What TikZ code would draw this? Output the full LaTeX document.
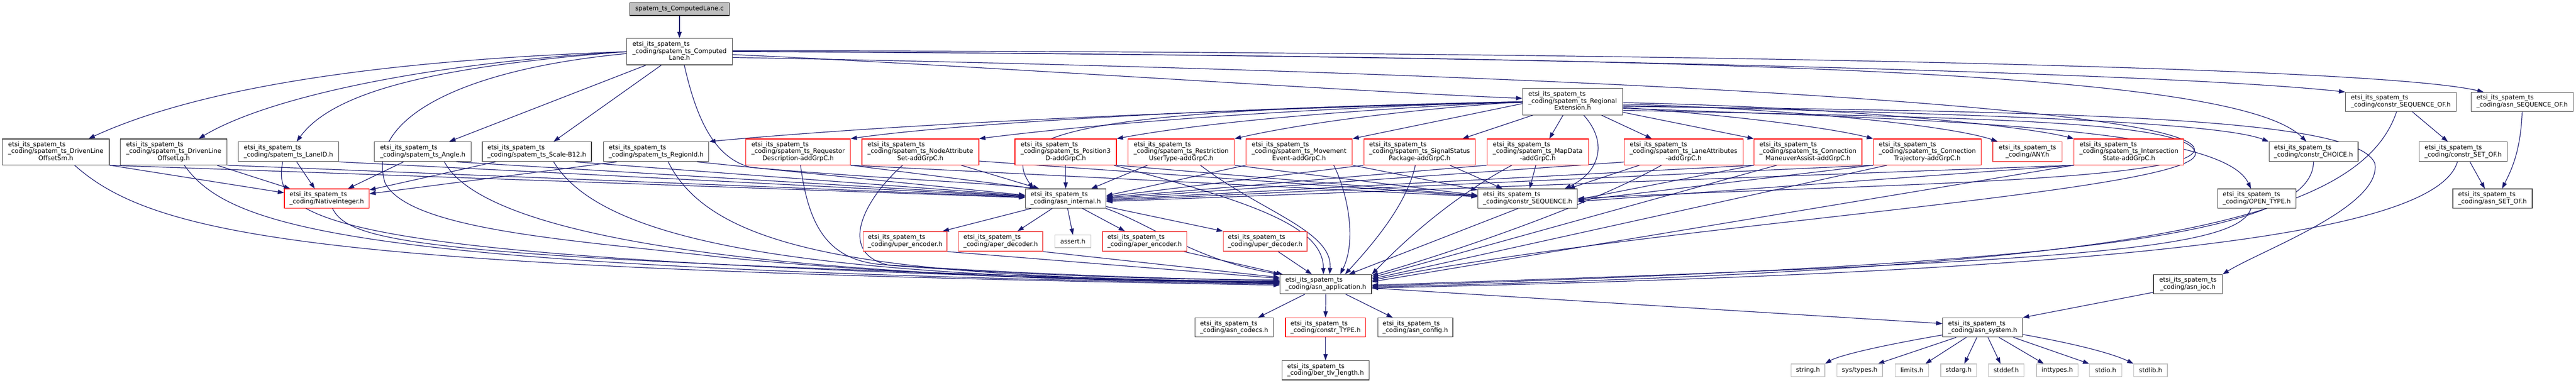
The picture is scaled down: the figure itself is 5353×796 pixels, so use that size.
\documentclass[tikz,border=0pt]{standalone}
\usepackage{fontspec}
\setmainfont{DejaVu Sans}
\usetikzlibrary{arrows.meta}
\pgfdeclarelayer{bglayer}
\pgfdeclarelayer{edgelayer}
\pgfsetlayers{bglayer,edgelayer,main}
\definecolor{edgec}{HTML}{191970}
\definecolor{grey25}{HTML}{404040}
\definecolor{grey75}{HTML}{BFBFBF}
\definecolor{lightred}{HTML}{F04848}
\newcommand{\nodefont}{\fontsize{13}{14.5}\selectfont}
\newcommand{\EI}{etsi\_its\_spatem\_ts}
\newcommand{\CO}{\_coding/}
\newcommand{\twoL}[2]{\begin{tabular}{@{}l@{}}#1\\\multicolumn{1}{@{}c@{}}{#2}\end{tabular}}
\newcommand{\threeL}[3]{\begin{tabular}{@{}l@{}}#1\\#2\\\multicolumn{1}{@{}c@{}}{#3}\end{tabular}}
\tikzset{
  nb/.style={draw=grey25, line width=1.3pt, fill=white, inner sep=0pt, font=\nodefont, text=black},
  redb/.style={nb, draw=red},
  lredb/.style={nb, draw=lightred, line width=1.6pt},
  stdh/.style={nb, draw=grey75, minimum height=26pt},
  rootb/.style={nb, fill=grey75, draw=black},
  nthree/.style={minimum height=54pt},
  ntwo/.style={minimum height=41pt},
  e/.style={draw=edgec, line width=1.3pt, -{Triangle[length=13pt,width=9pt]}},
}
\begin{document}
\begin{tikzpicture}[x=1pt,y=-1pt]
\begin{pgfonlayer}{bglayer}
\fill[white] (0,0) rectangle (5353,796);
\end{pgfonlayer}
\useasboundingbox (0,0) rectangle (5353,796);
% ---------- nodes ----------
\node[rootb, minimum width=206pt, minimum height=26pt] (C) at (1412,19) {spatem\_ts\_ComputedLane.c};
\node[nb, minimum width=220pt, minimum height=55pt] (H) at (1412,107.5) {\threeL{\EI}{\CO spatem\_ts\_Computed}{Lane.h}};
\node[nb, minimum width=208pt, minimum height=55pt] (RE) at (3268,211.5) {\threeL{\EI}{\CO spatem\_ts\_Regional}{Extension.h}};
\node[nb, minimum width=230pt, minimum height=40pt] (CSOF) at (4989,212) {\twoL{\EI}{\CO constr\_SEQUENCE\_OF.h}};
\node[nb, minimum width=212pt, minimum height=40pt] (ASOF) at (5241,212) {\twoL{\EI}{\CO asn\_SEQUENCE\_OF.h}};
% row 3
\node[nb, nthree, minimum width=222pt] (DLOSm) at (116,316) {\threeL{\EI}{\CO spatem\_ts\_DrivenLine}{OffsetSm.h}};
\node[nb, nthree, minimum width=222pt] (DLOLg) at (361,316) {\threeL{\EI}{\CO spatem\_ts\_DrivenLine}{OffsetLg.h}};
\node[nb, ntwo, minimum width=209pt] (LaneID) at (599.5,315.5) {\twoL{\EI}{\CO spatem\_ts\_LaneID.h}};
\node[nb, ntwo, minimum width=201pt] (Angle) at (878.5,315.5) {\twoL{\EI}{\CO spatem\_ts\_Angle.h}};
\node[nb, ntwo, minimum width=227pt] (ScaleB12) at (1115.5,315.5) {\twoL{\EI}{\CO spatem\_ts\_Scale-B12.h}};
\node[nb, ntwo, minimum width=219pt] (RegionId) at (1363.5,315.5) {\twoL{\EI}{\CO spatem\_ts\_RegionId.h}};
\node[redb, nthree, minimum width=217pt] (Requestor) at (1658.5,316) {\threeL{\EI}{\CO spatem\_ts\_Requestor}{Description-addGrpC.h}};
\node[redb, nthree, minimum width=243pt] (NodeAttr) at (1912.5,316) {\threeL{\EI}{\CO spatem\_ts\_NodeAttribute}{Set-addGrpC.h}};
\node[redb, nthree, minimum width=211pt] (Pos3D) at (2214.5,316) {\threeL{\EI}{\CO spatem\_ts\_Position3}{D-addGrpC.h}};
\node[redb, nthree, minimum width=221pt] (RestrUser) at (2454.5,316) {\threeL{\EI}{\CO spatem\_ts\_Restriction}{UserType-addGrpC.h}};
\node[redb, nthree, minimum width=221pt] (MovEvent) at (2699.5,316) {\threeL{\EI}{\CO spatem\_ts\_Movement}{Event-addGrpC.h}};
\node[redb, nthree, minimum width=232pt] (SigStatus) at (2950,316) {\threeL{\EI}{\CO spatem\_ts\_SignalStatus}{Package-addGrpC.h}};
\node[redb, nthree, minimum width=211pt] (MapData) at (3195.5,316) {\threeL{\EI}{\CO spatem\_ts\_MapData}{-addGrpC.h}};
\node[redb, nthree, minimum width=247pt] (LaneAttr) at (3498.5,316) {\threeL{\EI}{\CO spatem\_ts\_LaneAttributes}{-addGrpC.h}};
\node[redb, nthree, minimum width=224pt] (ConnMan) at (3757,316) {\threeL{\EI}{\CO spatem\_ts\_Connection}{ManeuverAssist-addGrpC.h}};
\node[redb, nthree, minimum width=224pt] (ConnTraj) at (4005,316) {\threeL{\EI}{\CO spatem\_ts\_Connection}{Trajectory-addGrpC.h}};
\node[lredb, ntwo, minimum width=144pt] (ANY) at (4213,315.5) {\twoL{\EI}{\CO ANY.h}};
\node[redb, nthree, minimum width=228pt] (InterState) at (4424,316) {\threeL{\EI}{\CO spatem\_ts\_Intersection}{State-addGrpC.h}};
\node[nb, ntwo, minimum width=185pt] (CCHOICE) at (4807.5,315.5) {\twoL{\EI}{\CO constr\_CHOICE.h}};
\node[nb, ntwo, minimum width=183pt] (CSETOF) at (5118.5,315.5) {\twoL{\EI}{\CO constr\_SET\_OF.h}};
% row 4
\node[redb, minimum height=40pt, minimum width=176pt] (NI) at (679,413) {\twoL{\EI}{\CO NativeInteger.h}};
\node[nb, minimum height=40pt, minimum width=167pt] (AI) at (2214.5,413) {\twoL{\EI}{\CO asn\_internal.h}};
\node[nb, minimum height=40pt, minimum width=207pt] (CSEQ) at (3174.5,413) {\twoL{\EI}{\CO constr\_SEQUENCE.h}};
\node[nb, minimum height=40pt, minimum width=163pt] (OT) at (4689.5,413) {\twoL{\EI}{\CO OPEN\_TYPE.h}};
\node[nb, minimum height=40pt, minimum width=165pt] (ASETOF) at (5179.5,413) {\twoL{\EI}{\CO asn\_SET\_OF.h}};
% row 5
\node[lredb, ntwo, minimum width=174pt] (UE) at (1881,502) {\twoL{\EI}{\CO uper\_encoder.h}};
\node[lredb, ntwo, minimum width=175pt] (AD) at (2079.5,502) {\twoL{\EI}{\CO aper\_decoder.h}};
\node[stdh, minimum width=75pt] (AS) at (2229.5,502) {assert.h};
\node[lredb, ntwo, minimum width=175pt] (AE) at (2378.5,502) {\twoL{\EI}{\CO aper\_encoder.h}};
\node[lredb, ntwo, minimum width=174pt] (UD) at (2629,502) {\twoL{\EI}{\CO uper\_decoder.h}};
% row 6
\node[nb, minimum height=40pt, minimum width=190pt] (AA) at (2755,591) {\twoL{\EI}{\CO asn\_application.h}};
\node[nb, minimum height=40pt, minimum width=143pt] (IOC) at (4546.5,591) {\twoL{\EI}{\CO asn\_ioc.h}};
% row 7
\node[nb, minimum height=40pt, minimum width=163pt] (CODECS) at (2564.5,681) {\twoL{\EI}{\CO asn\_codecs.h}};
\node[redb, minimum height=40pt, minimum width=167pt] (CT) at (2754.5,681) {\twoL{\EI}{\CO constr\_TYPE.h}};
\node[nb, minimum height=40pt, minimum width=156pt] (CONF) at (2941,681) {\twoL{\EI}{\CO asn\_config.h}};
\node[nb, minimum height=40pt, minimum width=166pt] (SYS) at (4120,681) {\twoL{\EI}{\CO asn\_system.h}};
% row 8
\node[nb, minimum height=40pt, minimum width=181pt] (BER) at (2754.5,770) {\twoL{\EI}{\CO ber\_tlv\_length.h}};
\node[stdh, minimum width=70pt] (STRING) at (3757,770) {string.h};
\node[stdh, minimum width=95pt] (STYPES) at (3864.5,770) {sys/types.h};
\node[stdh, minimum width=70pt] (LIMITS) at (3973,770) {limits.h};
\node[stdh, minimum width=74pt] (STDARG) at (4070,770) {stdarg.h};
\node[stdh, minimum width=74pt] (STDDEF) at (4169,770) {stddef.h};
\node[stdh, minimum width=86pt] (INTTYPES) at (4275,770) {inttypes.h};
\node[stdh, minimum width=67pt] (STDIO) at (4375.5,770) {stdio.h};
\node[stdh, minimum width=70pt] (STDLIB) at (4469,770) {stdlib.h};
% ---------- edges ----------
\begin{pgfonlayer}{edgelayer}
\draw[e] (C) -- (H);
% ComputedLane.h
\draw[e] (H.west) .. controls (800,125) and (420,180) .. ([xshift=68pt]DLOSm.north);
\draw[e] (H.west) .. controls (900,130) and (560,200) .. ([xshift=52pt]DLOLg.north);
\draw[e] (H.west) .. controls (950,135) and (700,180) .. ([xshift=17pt]LaneID.north);
\draw[e] ([yshift=-4pt]H.west) .. controls (950,145) and (760,250) .. (800,380) .. controls (850,480) and (1200,500) .. (1500,535) .. controls (1900,575) and (2300,585) .. ([yshift=3pt]AA.west);
\draw[e] ([xshift=-70pt]H.south) -- ([xshift=55pt]Angle.north);
\draw[e] ([xshift=-38pt]H.south) -- ([xshift=35pt]ScaleB12.north);
\draw[e] ([xshift=10pt]H.south) .. controls (1450,260) and (1490,330) .. (1560,348) .. controls (1800,370) and (2050,380) .. ([xshift=-60pt]AI.north);
\draw[e] ([yshift=-6pt]H.east) .. controls (2000,135) and (2800,190) .. ([yshift=7pt]RE.west);
\draw[e] (H.east) .. controls (3000,112) and (4500,150) .. (CSOF.north west);
\draw[e] ([yshift=2pt]H.east) .. controls (3000,106) and (4900,130) .. ([xshift=-80pt]ASOF.north);
\draw[e] ([yshift=1pt]H.east) .. controls (3500,120) and (4640,140) .. ([xshift=-15pt]CCHOICE.north);
\draw[e] ([yshift=-12pt]H.east) .. controls (3200,150) and (4550,220) .. (4560,310) .. controls (4565,380) and (3800,385) .. (CSEQ.east);
% RegionalExtension.h
\draw[e] (RE.west) .. controls (2500,230) and (1900,255) .. (RegionId.north east);
\draw[e] (RE.west) .. controls (2600,222) and (2000,255) .. (Requestor.north east);
\draw[e] (RE.west) .. controls (2700,225) and (2300,255) .. (NodeAttr.north east);
\draw[e] (RE.west) .. controls (2800,228) and (2500,255) .. (Pos3D.north east);
\draw[e] (RE.west) .. controls (2900,230) and (2700,258) .. (RestrUser.north east);
\draw[e] ([yshift=-4pt]RE.west) -- (MovEvent.north east);
\draw[e] ([xshift=-83pt]RE.south) -- ([xshift=89pt]SigStatus.north);
\draw[e] ([xshift=-20pt]RE.south) -- ([xshift=24pt]MapData.north);
\draw[e] ([xshift=60pt]RE.south) -- ([xshift=-66pt]LaneAttr.north);
\draw[e] ([yshift=-22pt]RE.east) -- (ConnMan.north west);
\draw[e] ([yshift=-12pt]RE.east) .. controls (3600,240) and (3800,265) .. (ConnTraj.north west);
\draw[e] ([yshift=-5pt]RE.east) .. controls (3700,225) and (4050,260) .. ([xshift=-62pt]ANY.north);
\draw[e] ([yshift=-2pt]RE.east) .. controls (3800,222) and (4200,260) .. (InterState.north west);
\draw[e] ([yshift=-8pt]RE.east) .. controls (4000,235) and (4600,250) .. (CCHOICE.north west);
\draw[e] ([yshift=-14pt]RE.east) .. controls (4100,250) and (4620,270) .. ([xshift=-12pt]OT.north);
\draw[e] ([yshift=-10pt]RE.east) .. controls (4400,232) and (4900,250) .. (4935,340) .. controls (4950,430) and (4700,520) .. (IOC.north east);
\draw[e] ([yshift=-2pt]RE.west) .. controls (2300,225) and (2060,270) .. ([xshift=-67pt]AI.north);
\draw[e] ([xshift=23pt]RE.south) .. controls (3345,300) and (3320,360) .. ([xshift=77pt]CSEQ.north);
\draw[e] ([yshift=-18pt]RE.east) .. controls (4100,245) and (4560,250) .. (4562,320) .. controls (4562,400) and (3400,470) .. ([yshift=8pt]AA.east);
% integer leaf types
\draw[e] (DLOSm.south east) -- ([yshift=12pt]NI.west);
\draw[e] (DLOSm.south east) -- ([yshift=2pt]AI.west);
\draw[e] ([xshift=39pt]DLOSm.south) .. controls (330,500) and (700,560) .. ([yshift=-2pt]AA.west);
\draw[e] ([xshift=90pt]DLOLg.south) -- ([xshift=-76pt]NI.north);
\draw[e] (DLOLg.south east) -- ([yshift=3pt]AI.west);
\draw[e] ([xshift=22pt]DLOLg.south) .. controls (480,480) and (750,560) .. ([yshift=0pt]AA.west);
\draw[e] ([xshift=17pt]LaneID.south) -- ([xshift=-25pt]NI.north);
\draw[e] (LaneID.south east) -- ([yshift=4pt]AI.west);
\draw[e] ([xshift=-12pt]LaneID.south) .. controls (560,470) and (700,545) .. ([yshift=1pt]AA.west);
\draw[e] ([xshift=-40pt]Angle.south) -- ([xshift=44pt]NI.north);
\draw[e] ([xshift=70pt]Angle.south) -- ([yshift=5pt]AI.west);
\draw[e] ([xshift=45pt]Angle.south) .. controls (1000,480) and (1500,580) .. ([yshift=4pt]AA.west);
\draw[e] ([xshift=-86pt]ScaleB12.south) -- ([yshift=18pt]NI.east);
\draw[e] ([xshift=80pt]ScaleB12.south) -- ([yshift=6pt]AI.west);
\draw[e] ([xshift=35pt]ScaleB12.south) .. controls (1250,500) and (1650,580) .. ([yshift=5pt]AA.west);
\draw[e] ([xshift=-82pt]RegionId.south) -- ([yshift=10pt]NI.east);
\draw[e] ([xshift=85pt]RegionId.south) -- ([yshift=7pt]AI.west);
\draw[e] ([xshift=25pt]RegionId.south) .. controls (1480,520) and (1800,580) .. ([yshift=6pt]AA.west);
% addGrpC headers
\draw[e] ([xshift=5pt]Requestor.south) .. controls (1680,470) and (1720,540) .. (1830,550) .. controls (2100,568) and (2400,580) .. ([yshift=8pt]AA.west);
\draw[e] (Requestor.south east) -- ([xshift=-62pt]AI.north);
\draw[e] (Requestor.south east) -- ([yshift=4pt]CSEQ.west);
\draw[e] ([xshift=-37pt]NodeAttr.south) .. controls (1790,420) and (1740,530) .. (1850,552) .. controls (2100,570) and (2400,582) .. ([yshift=9pt]AA.west);
\draw[e] ([xshift=85pt]NodeAttr.south) -- ([xshift=-55pt]AI.north);
\draw[e] ([yshift=-19pt]NodeAttr.east) -- ([yshift=5pt]CSEQ.west);
\draw[e] (Pos3D) -- (AI);
\draw[e] ([xshift=100pt]Pos3D.south) .. controls (2600,420) and (2750,470) .. ([xshift=-5pt]AA.north);
\draw[e] (Pos3D.south east) -- ([yshift=6pt]CSEQ.west);
\draw[e] ([xshift=-70pt]RestrUser.south) -- ([xshift=53pt]AI.north);
\draw[e] (RestrUser.south east) -- ([yshift=7pt]CSEQ.west);
\draw[e] ([xshift=40pt]RestrUser.south) .. controls (2620,440) and (2770,480) .. ([xshift=8pt]AA.north);
\draw[e] (MovEvent.south west) -- ([yshift=6pt]AI.east);
\draw[e] ([xshift=72pt]MovEvent.south) .. controls (2800,400) and (2820,500) .. ([xshift=30pt]AA.north);
\draw[e] (MovEvent.south east) -- ([yshift=18pt]CSEQ.west);
\draw[e] (SigStatus.south west) -- ([yshift=4pt]AI.east);
\draw[e] ([xshift=-9pt]SigStatus.south) .. controls (2925,420) and (2860,500) .. ([xshift=40pt]AA.north);
\draw[e] ([xshift=63pt]SigStatus.south) -- ([xshift=-52pt]CSEQ.north);
\draw[e] (MapData.south west) -- ([yshift=2pt]AI.east);
\draw[e] ([xshift=-54pt]MapData.south) .. controls (3000,420) and (2900,520) .. (AA.north east);
\draw[e] ([xshift=-4pt]MapData.south) -- ([xshift=4pt]CSEQ.north);
\draw[e] ([yshift=-21pt]LaneAttr.west) -- (AI.east);
\draw[e] ([xshift=-46pt]LaneAttr.south) .. controls (3300,430) and (3000,530) .. ([yshift=18pt]AA.east);
\draw[e] ([xshift=-92pt]LaneAttr.south) -- ([xshift=85pt]CSEQ.north);
\draw[e] (ConnMan.south west) -- ([yshift=-2pt]AI.east);
\draw[e] ([xshift=-65pt]ConnMan.south) -- ([yshift=14pt]AA.east);
\draw[e] (ConnMan.south west) -- ([yshift=-2pt]CSEQ.east);
\draw[e] (ConnTraj.south west) -- ([yshift=-4pt]AI.east);
\draw[e] ([xshift=-84pt]ConnTraj.south) -- ([yshift=11pt]AA.east);
\draw[e] (ConnTraj.south west) -- ([yshift=-4pt]CSEQ.east);
\draw[e] (InterState.south west) -- ([yshift=-6pt]AI.east);
\draw[e] (InterState.south west) -- ([yshift=5pt]AA.east);
\draw[e] (InterState.south west) -- ([yshift=-6pt]CSEQ.east);
% NativeInteger, constr_SEQUENCE
\draw[e] ([xshift=12pt]NI.south) .. controls (730,510) and (900,540) .. ([yshift=2pt]AA.west);
\draw[e] ([xshift=-20pt]CSEQ.south) -- ([xshift=48pt]AA.north);
% asn_internal.h
\draw[e] ([xshift=4pt]AI.south) -- (AS.north);
\draw[e] ([xshift=-72pt]AI.south) -- ([xshift=78pt]UE.north);
\draw[e] ([xshift=-28pt]AI.south) -- ([xshift=35pt]AD.north);
\draw[e] ([xshift=35pt]AI.south) -- ([xshift=-41pt]AE.north);
\draw[e] ([yshift=4pt]AI.south east) -- (UD.north west);
\draw[e] (AI.south east) .. controls (2400,470) and (2480,540) .. (AA.north west);
\draw[e] (UE.south east) -- ([yshift=12pt]AA.west);
\draw[e] (AD.south east) -- ([yshift=14pt]AA.west);
\draw[e] ([xshift=82pt]AE.south) -- ([xshift=6pt]AA.north west);
\draw[e] ([xshift=27pt]UD.south) -- ([xshift=-29pt]AA.north);
% right-hand headers
\draw[e] (CCHOICE.south) .. controls (4805,490) and (4300,550) .. ([yshift=-4pt]AA.east);
\draw[e] ([xshift=-9pt]CSOF.south) .. controls (4900,470) and (4400,560) .. ([yshift=-6pt]AA.east);
\draw[e] ([xshift=24pt]CSOF.south) -- ([xshift=-32pt]CSETOF.north);
\draw[e] ([xshift=-12pt]CSETOF.south) .. controls (5060,490) and (4400,565) .. ([yshift=-8pt]AA.east);
\draw[e] ([xshift=14pt]CSETOF.south) -- ([xshift=-16pt]ASETOF.north);
\draw[e] (ASOF.south) .. controls (5238,320) and (5215,360) .. ([xshift=20pt]ASETOF.north);
\draw[e] ([xshift=-12pt]OT.south) .. controls (4650,520) and (4300,545) .. ([yshift=-2pt]AA.east);
\draw[e] ([yshift=-17pt]IOC.west) -- (SYS.north east);
% asn_application.h
\draw[e] ([yshift=-8pt]AA.east) -- ([yshift=8pt]SYS.west);
\draw[e] ([xshift=-43pt]AA.south) -- ([xshift=50pt]CODECS.north);
\draw[e] (AA.south) -- (CT.north);
\draw[e] ([xshift=41pt]AA.south) -- ([xshift=-47pt]CONF.north);
\draw[e] (CT.south) -- (BER.north);
% asn_system.h
\draw[e] ([yshift=5pt]SYS.south west) .. controls (3900,720) and (3820,740) .. (STRING.north east);
\draw[e] ([xshift=-55pt]SYS.south) -- ([xshift=38pt]STYPES.north);
\draw[e] ([xshift=-34pt]SYS.south) -- ([xshift=28pt]LIMITS.north);
\draw[e] ([xshift=-12pt]SYS.south) -- ([xshift=12pt]STDARG.north);
\draw[e] ([xshift=11pt]SYS.south) -- ([xshift=-12pt]STDDEF.north);
\draw[e] ([xshift=34pt]SYS.south) -- ([xshift=-28pt]INTTYPES.north);
\draw[e] ([xshift=64pt]SYS.south) -- (STDIO.north west);
\draw[e] ([yshift=6pt]SYS.south east) .. controls (4340,720) and (4400,740) .. (STDLIB.north west);
\end{pgfonlayer}
\end{tikzpicture}
\end{document}
